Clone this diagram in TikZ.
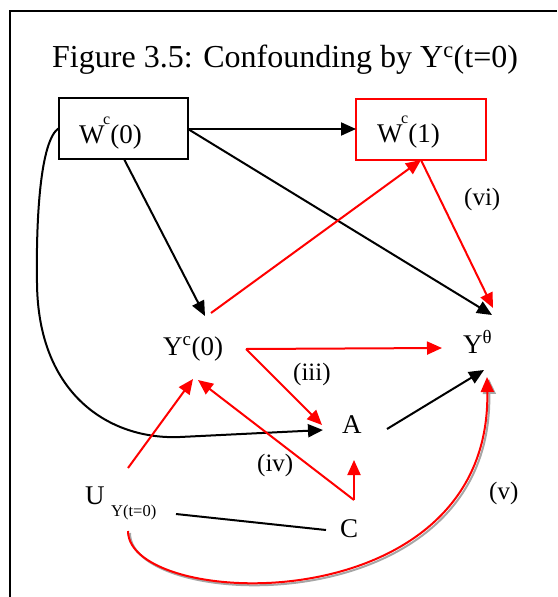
\documentclass[tikz,border=0pt]{standalone}
\usepackage{fontspec}
\setmainfont{Liberation Serif}
\usetikzlibrary{arrows.meta}
\tikzset{
  lbl/.style={anchor=base west, inner sep=0pt, font=\fontsize{27}{30}\selectfont},
  plab/.style={anchor=base west, inner sep=0pt, font=\fontsize{25}{28}\selectfont},
  tip/.style={-{Triangle[length=15pt,width=13pt]}},
  conn/.style={line width=2pt, tip},
  rconn/.style={conn, red},
  bconn/.style={conn, black},
  boxb/.style={draw=black, line width=1.6pt},
  boxr/.style={draw=red, line width=1.6pt},
}
\newcommand{\supc}{\hspace{-1.5pt}\raisebox{19pt}{\fontsize{16}{16}\selectfont c}}
\begin{document}
\begin{tikzpicture}[x=1pt,y=-1pt]
\useasboundingbox (0,0) rectangle (557,597);
% frame
\draw[line width=2pt] (10,597) -- (10,11) -- (557,11);
% title
\node[anchor=base west, inner sep=0pt, font=\fontsize{32}{36}\selectfont] (title) at (52,67) {Figure 3.5: Confounding by Y\textsuperscript{c}(t=0)};
% boxes
\draw[boxb] (59,98) rectangle (188,159);
\draw[boxr] (356,99) rectangle (486,160);
% labels
\node[lbl] (w0) at (79,143) {W\supc(0)};
\node[lbl] (w1) at (377,142) {W\supc(1)};
\node[lbl] (yc0) at (163,355) {Y\textsuperscript{c}(0)};
\node[lbl] (yth) at (463,353) {Y\textsuperscript{θ}};
\node[lbl] (a) at (342,433) {A};
\node[lbl] (c) at (340,537) {C};
\node[lbl] (u) at (85,504) {U};
\node[anchor=base west, inner sep=0pt, font=\fontsize{16.5}{18}\selectfont] (usub) at (111,516) {Y(t=0)};
\node[plab] (lvi) at (464,205) {(vi)};
\node[plab] (liii) at (293,380) {(iii)};
\node[plab] (liv) at (257,471) {(iv)};
\node[plab] (lv) at (489,499) {(v)};
% coordinates
\coordinate (w0e) at (188,129);
\coordinate (w0s) at (124,159);
\coordinate (w0w) at (59,128);
\coordinate (w1w) at (356,129);
\coordinate (w1s) at (421,160);
\coordinate (ycin) at (205,316);
\coordinate (ycout) at (211,313);
\coordinate (ycr) at (246,349);
\coordinate (ycinL) at (193,379);
\coordinate (ycinR) at (198,380);
\coordinate (ythL) at (492,315);
\coordinate (ythR) at (493,308);
\coordinate (ythA) at (484,370);
\coordinate (ythB) at (487,377);
\coordinate (ythW) at (442,348);
\coordinate (ain) at (323,430);
\coordinate (ainR) at (322,425);
\coordinate (aout) at (387,429);
\coordinate (ainB) at (354,460);
\coordinate (ucorner) at (354,500);
\coordinate (ut) at (128,468);
\coordinate (ub) at (128,531);
\coordinate (ue) at (176,514);
\coordinate (cw) at (326,530);
% black connectors
\draw[bconn] (w0e) -- (w1w);
\draw[bconn] (w0e) -- (ythL);
\draw[bconn] (w0s) -- (ycin);
\draw[bconn] (w0w) .. controls (40,140) and (36,220) .. (37,283) .. controls (38,395) and (110,440) .. (180,437) -- (ain);
\draw[bconn] (aout) -- (ythA);
\draw[line width=2pt] (ue) -- (cw);
% red connectors
\draw[rconn] (ycout) -- (w1s);
\draw[rconn] (w1s) -- (ythR);
\draw[rconn] (ycr) -- (ythW);
\draw[rconn] (ycr) -- (ainR);
\draw[rconn] (ut) -- (ycinL);
\draw[rconn] (ucorner) -- (ycinR);
\draw[rconn] (ucorner) -- (ainB);
% shadowed curve
\draw[line width=2pt, color=black!35, tip] ([shift={(2,2)}]ub) .. controls (130,612) and (494,627) .. ([shift={(2,2)}]ythB);
\draw[rconn] (ub) .. controls (128,610) and (492,625) .. (ythB);
\end{tikzpicture}
\end{document}
